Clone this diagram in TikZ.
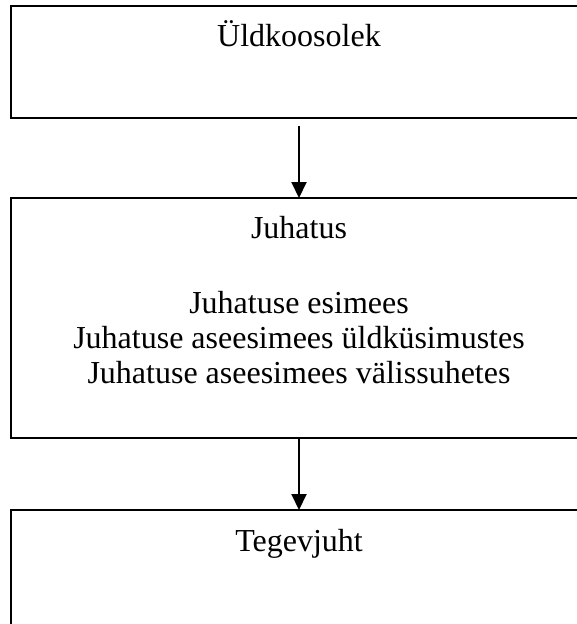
\documentclass[tikz,border=0pt]{standalone}
\usepackage{fontspec}
\setmainfont{Liberation Serif}
\usetikzlibrary{arrows.meta}
\begin{document}
\begin{tikzpicture}[x=1pt,y=-1pt,
  orgbox/.style={draw=black, line width=2pt, minimum width=576pt, anchor=north west, inner sep=0pt, outer sep=0pt},
  lbl/.style={anchor=base, inner sep=0pt, font=\fontsize{32}{35}\selectfont},
  conn/.style={line width=2pt, -{Triangle[width=15pt,length=16pt]}}]
\clip (0,0) rectangle (577,624);
\fill[white] (0,0) rectangle (577,624);
\node[orgbox, minimum height=112pt] (b1) at (11,6.3) {};
\node[orgbox, minimum height=240pt] (b2) at (11,198) {};
\node[orgbox, minimum height=180pt] (b3) at (11,510) {};
\node[lbl] (t1) at ([yshift=-40.5pt]b1.north) {Üldkoosolek};
\node[lbl] (t2) at ([yshift=-40.5pt]b2.north) {Juhatus};
\node[lbl] (t3) at ([yshift=-115pt]b2.north) {Juhatuse esimees};
\node[lbl] (t4) at ([yshift=-150pt]b2.north) {Juhatuse aseesimees üldküsimustes};
\node[lbl] (t5) at ([yshift=-185pt]b2.north) {Juhatuse aseesimees välissuhetes};
\node[lbl] (t6) at ([yshift=-41pt]b3.north) {Tegevjuht};
\coordinate (a1) at ([yshift=-7.5pt]b1.south);
\draw[conn] (a1) -- (b2.north);
\draw[conn] (b2.south) -- (b3.north);
\end{tikzpicture}
\end{document}
